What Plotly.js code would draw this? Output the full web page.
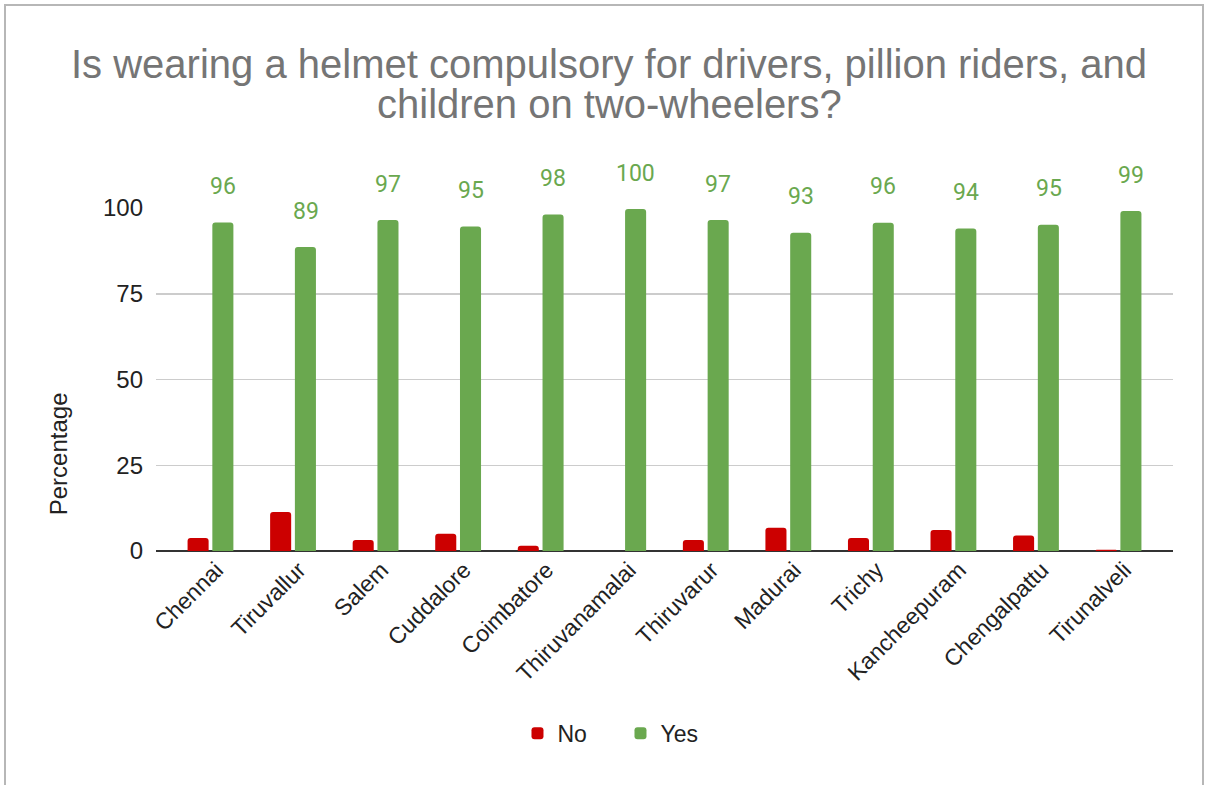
<!DOCTYPE html>
<html>
<head>
<meta charset="utf-8">
<script src="https://cdn.plot.ly/plotly-3.0.1.min.js"></script>
<style>
  html, body { margin: 0; padding: 0; background: #ffffff; }
  #chart { position: absolute; left: 0; top: 0; width: 1210px; height: 785px; }
  #frame { position: absolute; left: 4px; top: 4px; width: 1200px; height: 800px;
           border: 2px solid #b7b7b7; pointer-events: none; box-sizing: border-box; }
</style>
</head>
<body>
<div id="chart"></div>
<div id="frame"></div>
<script>
const districts = ["Chennai", "Tiruvallur", "Salem", "Cuddalore", "Coimbatore", "Thiruvanamalai",
                   "Thiruvarur", "Madurai", "Trichy", "Kancheepuram", "Chengalpattu", "Tirunalveli"];
const noValues  = [3.8, 11.4, 3.2, 5.0, 1.5, 0, 3.2, 6.8, 3.8, 6.1, 4.5, 0.4];
const yesValues = [95.8, 88.6, 96.5, 94.6, 98.1, 99.7, 96.5, 92.8, 95.7, 94.0, 95.1, 99.1];
const yTicks = [0, 25, 50, 75, 100];
const titleLines = ["Is wearing a helmet compulsory for drivers, pillion riders, and",
                    "children on two-wheelers?"];

const RED = "#cc0000", GREEN = "#6aa84f";
const FONT = "Arial, Liberation Sans, sans-serif";

const traces = [
  { type: "bar", name: "No", x: districts, y: noValues,
    marker: { color: RED, cornerradius: 3 }, hoverinfo: "x+y" },
  { type: "bar", name: "Yes", x: districts, y: yesValues,
    marker: { color: GREEN, cornerradius: 3 }, hoverinfo: "x+y" }
];

const annotations = [];
// value labels above the Yes bars
districts.forEach((d, i) => {
  annotations.push({
    x: d, y: yesValues[i], xref: "x", yref: "y",
    text: String(Math.round(yesValues[i])),
    showarrow: false, xanchor: "center", yanchor: "middle",
    xshift: 12.6, yshift: 36,
    font: { family: "Roboto, Arial, sans-serif", size: 23, color: GREEN }
  });
});
// two-line title
const titleY = [1.4204, 1.3038];
titleLines.forEach((t, i) => {
  annotations.push({
    text: t, xref: "paper", yref: "paper", x: (609 - 156) / 1017, y: titleY[i],
    xanchor: "center", yanchor: "middle", showarrow: false,
    font: { family: FONT, size: 40, color: "#757575" }
  });
});
// y axis title
annotations.push({
  text: "Percentage", xref: "paper", yref: "paper", x: (58 - 156) / 1017, y: 0.282,
  xanchor: "center", yanchor: "middle", showarrow: false, textangle: -90,
  font: { family: FONT, size: 24, color: "#222222" }
});

const layout = {
  width: 1210, height: 785,
  margin: { l: 156, r: 37, t: 208, b: 234, pad: 0 },
  paper_bgcolor: "#ffffff", plot_bgcolor: "#ffffff",
  barmode: "group", bargap: 0.4, bargroupgap: 0.15,
  showlegend: true,
  legend: {
    orientation: "h", xref: "container", yref: "container",
    x: 0.5128, xanchor: "center", y: 0.066, yanchor: "middle",
    font: { family: FONT, size: 23, color: "#222222" },
    entrywidth: 58, entrywidthmode: "pixels", itemwidth: 30
  },
  xaxis: {
    type: "category", range: [-0.66, 11.66], tickangle: -45,
    tickfont: { family: FONT, size: 23, color: "#222222" },
    ticklabelshift: 6,
    showgrid: false, zeroline: false, showline: false, ticks: "",
    fixedrange: true
  },
  yaxis: {
    range: [0, 100], tickvals: yTicks, ticktext: yTicks.map(String),
    tickfont: { family: FONT, size: 24, color: "#222222" },
    showgrid: true, gridcolor: "#cccccc", gridwidth: 1.5,
    zeroline: true, zerolinecolor: "#333333", zerolinewidth: 2,
    showline: false, ticks: "", ticklabelstandoff: 12, fixedrange: true
  },
  annotations: annotations
};

Plotly.newPlot("chart", traces, layout, { displayModeBar: false, staticPlot: true });
</script>
</body>
</html>
